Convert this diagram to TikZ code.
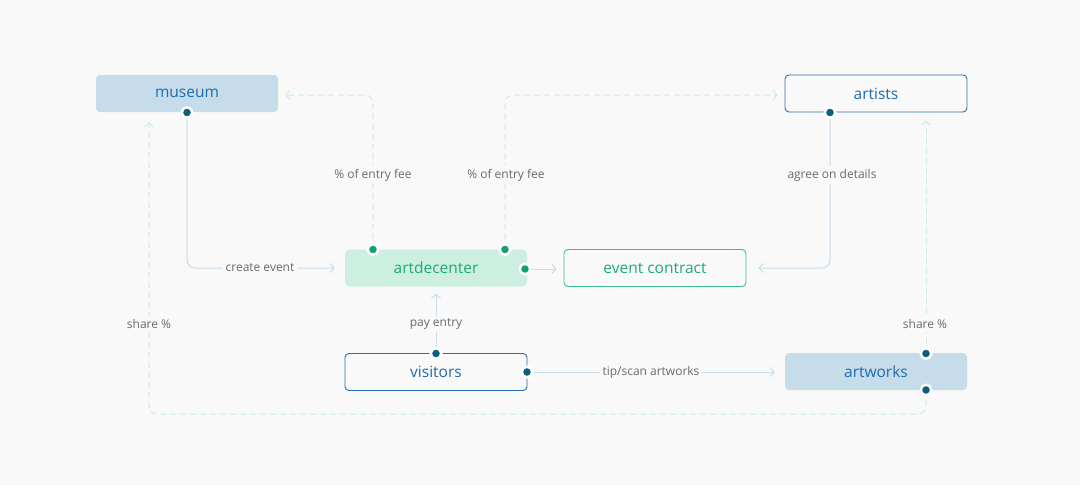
\documentclass[tikz,border=0pt]{standalone}
\usepackage{fontspec}
\setmainfont{Open Sans}
\usetikzlibrary{arrows.meta,calc}
\definecolor{bg}{HTML}{F9F9F9}
\definecolor{lblue}{HTML}{C6DCEB}
\definecolor{tblue}{HTML}{1C6BAE}
\definecolor{bblue}{HTML}{2A6FAF}
\definecolor{dblue}{HTML}{0B5E80}
\definecolor{mint}{HTML}{CDEFE1}
\definecolor{tgreen}{HTML}{1DAA75}
\definecolor{bgreen}{HTML}{3DBB8C}
\definecolor{dgreen}{HTML}{10A26E}
\definecolor{sline}{HTML}{C7DBEA}
\definecolor{dline}{HTML}{C9EEE2}
\definecolor{lgray}{HTML}{6A6A6A}
\tikzset{
  box/.style={rounded corners=4pt, minimum width=182pt, minimum height=37pt, inner sep=0pt, font=\fontsize{15.5}{18}\selectfont},
  bluefill/.style={box, fill=lblue, text=tblue},
  blueline/.style={box, fill=bg, draw=bblue, line width=0.9pt, text=tblue},
  greenfill/.style={box, fill=mint, text=tgreen},
  greenline/.style={box, fill=bg, draw=bgreen, line width=0.9pt, text=tgreen},
  solidc/.style={draw=sline, line width=1pt, rounded corners=8pt},
  dashc/.style={draw=dline, line width=1pt, dash pattern=on 6pt off 4pt, rounded corners=8pt},
  tip/.style={-{Straight Barb[length=4pt,width=9pt,line width=1pt]}},
  lbl/.style={fill=bg, text=lgray, inner sep=3pt, font=\fontsize{12}{14}\selectfont},
  bdot/.style={circle, fill=dblue, draw=white, line width=2.5pt, minimum size=10.5pt, inner sep=0pt},
  gdot/.style={circle, fill=dgreen, draw=white, line width=2.5pt, minimum size=10.5pt, inner sep=0pt}
}
\begin{document}
\begin{tikzpicture}[x=1pt,y=-1pt]
\fill[bg] (0,0) rectangle (1080,485);
\useasboundingbox (0,0) rectangle (1080,485);
% nodes
\node[bluefill] (museum) at (187,93.5) {museum};
\node[blueline] (artists) at (876,93.5) {artists};
\node[greenfill] (artdec) at (436,268) {artdecenter};
\node[greenline] (contract) at (655,268) {event contract};
\node[blueline] (visitors) at (436,372) {visitors};
\node[bluefill] (artworks) at (876,371.5) {artworks};
% dot coordinates
\coordinate (d1) at (187,112.5);
\coordinate (d2) at (373,249.5);
\coordinate (d3) at (505,249.5);
\coordinate (d4) at (525,269);
\coordinate (d5) at (830,112.5);
\coordinate (d6) at (436,353.5);
\coordinate (d7) at (527,372);
\coordinate (d8) at (926,353.5);
\coordinate (d9) at (926,390);
\coordinate (loopb) at (149,414);
% connectors
\draw[solidc,tip] (d1) |- ([xshift=-10pt]artdec.west);
\draw[dashc,tip] (d2) |- ([xshift=7pt,yshift=-1.5pt]museum.east);
\draw[dashc,tip] (d3) |- ([xshift=-7pt,yshift=-1.5pt]artists.west);
\draw[solidc,tip] (d4) -- ([xshift=-7pt,yshift=-1pt]contract.west);
\draw[solidc,tip] (d5) |- ([xshift=12pt]contract.east);
\draw[solidc,tip] (d6) -- ([yshift=-7pt]artdec.south);
\draw[solidc,tip] (d7) -- ([xshift=-10pt]artworks.west |- d7);
\draw[dashc,tip] (d8) -- ([yshift=-8pt]artists.south -| d8);
\draw[dashc,tip] (d9) |- (loopb) -- ([yshift=-10pt]museum.south -| loopb);
% labels
\node[lbl] (l1) at (260,268) {create event};
\node[lbl] (l2) at (373,175) {\% of entry fee};
\node[lbl] (l3) at (506,175) {\% of entry fee};
\node[lbl] (l5) at (832,175) {agree on details};
\node[lbl] (l6) at (436,324) {pay entry};
\node[lbl] (l7) at (651,372) {tip/scan artworks};
\node[lbl] (l8) at (925,324) {share \%};
\node[lbl] (l9) at (149,324) {share \%};
% dots
\node[bdot] at (d1) {};
\node[gdot] at (d2) {};
\node[gdot] at (d3) {};
\node[gdot] at (d4) {};
\node[bdot] at (d5) {};
\node[bdot] at (d6) {};
\node[bdot] at (d7) {};
\node[bdot] at (d8) {};
\node[bdot] at (d9) {};
\end{tikzpicture}
\end{document}
